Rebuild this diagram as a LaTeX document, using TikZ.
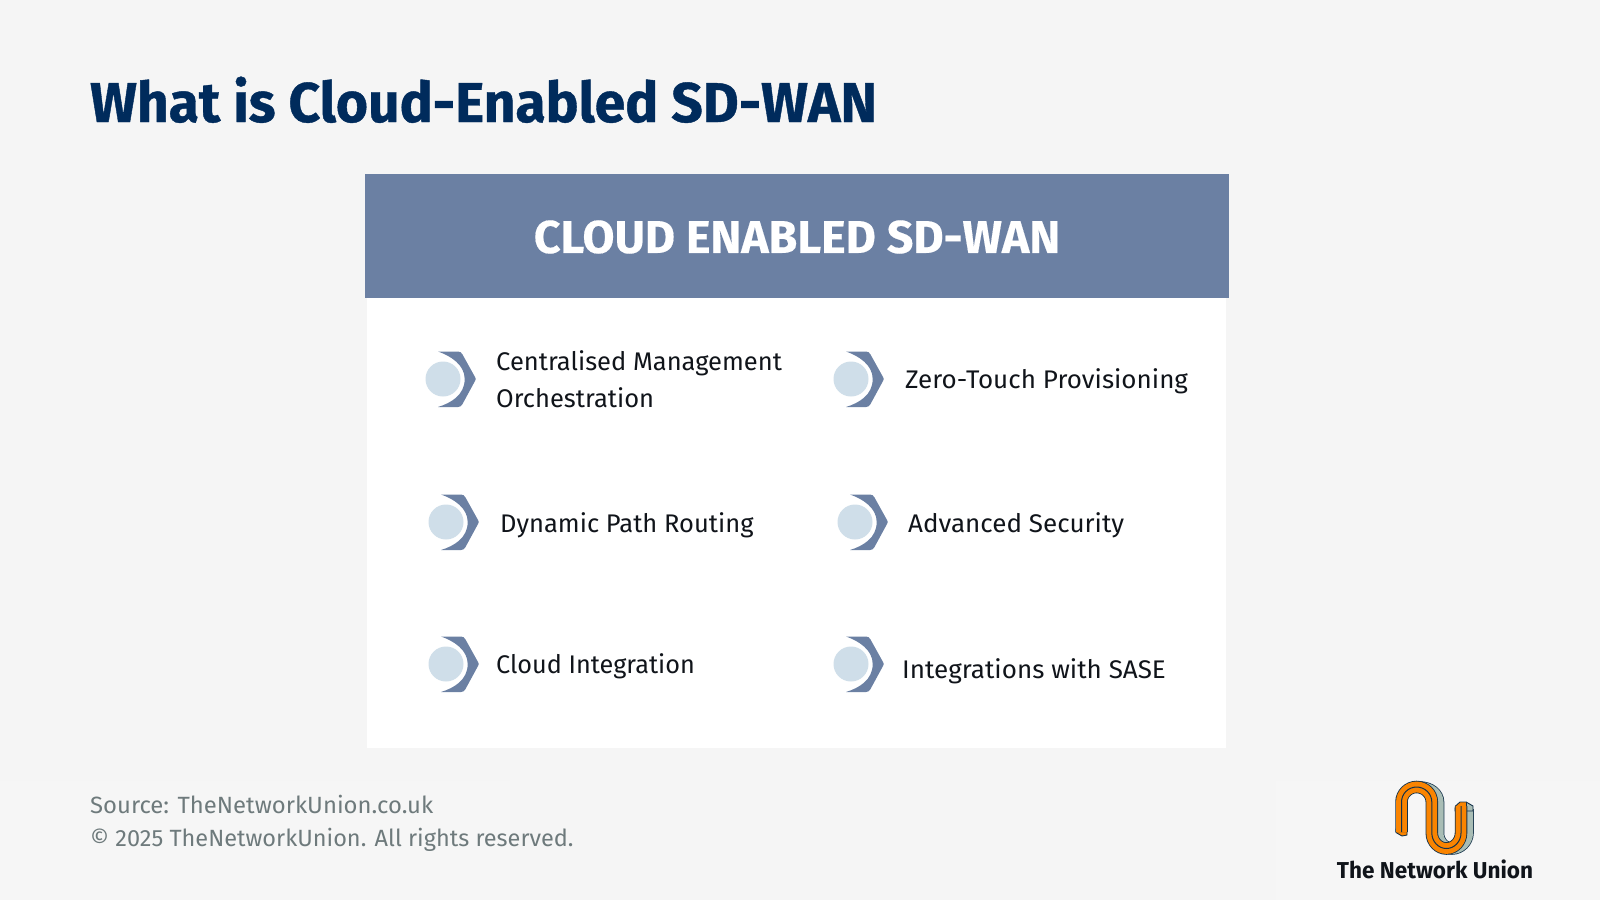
\documentclass[tikz,border=0pt]{standalone}
\usepackage{fontspec}
\setmainfont{Fira Sans}
\newfontfamily\bodyf[FakeStretch=1.0]{Fira Sans}
\newfontfamily\bodywide[FakeStretch=1.02]{Fira Sans}
\newfontfamily\bodyslim[FakeStretch=0.99]{Fira Sans}
\newfontfamily\footf[FakeStretch=1.0]{Fira Sans}
\newfontfamily\footwide[FakeStretch=1.015]{Fira Sans}
\newfontfamily\titlef[FakeStretch=0.985,FakeBold=0.7]{Fira Sans Bold}
\newfontfamily\headf[FakeStretch=1.01,FakeBold=0.3]{Fira Sans Bold}
\newfontfamily\logof[FakeStretch=0.98]{Fira Sans Bold}
\definecolor{bgc}{HTML}{F5F5F5}
\definecolor{bgl}{HTML}{F6F6F6}
\definecolor{navy}{HTML}{002B5C}
\definecolor{slate}{HTML}{6B80A3}
\definecolor{pale}{HTML}{CFDEE9}
\definecolor{greyt}{HTML}{6E7A7C}
\definecolor{ink}{HTML}{10141A}
\definecolor{orangel}{HTML}{FA8400}
\definecolor{sage}{HTML}{A9BDB5}
\definecolor{outl}{HTML}{14324A}
\def\logomain{(1401.5,832) -- (1401.5,802) .. controls (1401.5,793.7) and (1408.3,787) .. (1416.6,787) .. controls (1424.9,787) and (1431.8,793.7) .. (1431.8,802) -- (1431.8,833) .. controls (1431.8,841.5) and (1438.4,848.5) .. (1446.4,848.5) .. controls (1454.4,848.5) and (1461,841.5) .. (1461,833) -- (1461,806)}
\def\logoshade{(1420,787.5) .. controls (1430,787.5) and (1438,794) .. (1438,802) -- (1438,833) .. controls (1438,841.5) and (1444,848.5) .. (1452,848.5) .. controls (1460,848.5) and (1467.5,841.5) .. (1467.5,833) -- (1467.5,809)}
\tikzset{
  x=1pt,y=-1pt,
  itemtext/.style={anchor=base west,inner sep=0pt,font=\bodyf\fontsize{25.5}{31}\selectfont,text=ink},
  itemwide/.style={itemtext,font=\bodywide\fontsize{25.5}{31}\selectfont},
  itemslim/.style={itemtext,font=\bodyslim\fontsize{25.5}{31}\selectfont},
  foottext/.style={anchor=base west,inner sep=0pt,font=\footf\fontsize{23.5}{28}\selectfont,text=greyt},
  footwider/.style={foottext,font=\footwide\fontsize{23.5}{28}\selectfont},
  chev/.pic={
    \fill[slate] (-5,-27.5) -- (15,-27.5) .. controls (17,-27.5) and (18.5,-26.5) .. (19.5,-24.5) -- (32,-2) .. controls (33,-0.5) and (33,0.5) .. (32,2) -- (19.5,25) .. controls (18.5,27) and (17,28) .. (15,28) -- (-5,28) .. controls (8,24) and (21.7,16) .. (21.7,0) .. controls (21.7,-14) and (8,-23) .. (-5,-27.5) -- cycle;
    \fill[pale] (0,0) circle (17.5);
  }
}
\begin{document}
\begin{tikzpicture}
\useasboundingbox (0,0) rectangle (1600,900);
\fill[bgc] (0,0) rectangle (1600,900);
\fill[bgl] (0,781) rectangle (510,900);
\fill[bgl] (1276,781) rectangle (1600,900);
\node[anchor=base west,inner sep=0pt,font=\titlef\fontsize{56}{60}\selectfont,text=navy] (title) at (90,122) {What is Cloud-Enabled SD-WAN};
\fill[white] (367,298) rectangle (1226,748);
\fill[slate] (365,174) rectangle (1229,298);
\node[anchor=center,inner sep=0pt,font=\headf\fontsize{46}{50}\selectfont,text=white] (head) at (797,237) {CLOUD ENABLED SD-WAN};
\pic at (443,379) {chev};
\pic at (851,379) {chev};
\pic at (446,522) {chev};
\pic at (855,522) {chev};
\pic at (446,664) {chev};
\pic at (851,664) {chev};
\node[itemtext] (a1) at (496,370) {Centralised Management};
\node[itemtext] (a2) at (496,407) {Orchestration};
\node[itemwide] (b) at (905,388) {Zero-Touch Provisioning};
\node[itemtext] (c) at (500,532) {Dynamic Path Routing};
\node[itemwide] (d) at (908,532) {Advanced Security};
\node[itemslim] (e) at (496,673) {Cloud Integration};
\node[itemwide] (f) at (902,678) {Integrations with SASE};
\node[footwider] (s1) at (90,813) {Source: TheNetworkUnion.co.uk};
\node[foottext] (s2) at (90,846) {© 2025 TheNetworkUnion. All rights reserved.};
\node[anchor=base,inner sep=0pt,font=\logof\fontsize{23}{26}\selectfont,text=ink] (logo) at (1435,878) {The Network Union};
% logo
\draw[outl,line width=12.5pt] \logoshade;
\draw[sage,line width=11pt] \logoshade;
\filldraw[fill=sage,draw=outl,line width=0.9pt] (1455,808) -- (1461,802.5) -- (1467,802.5) -- (1473,806) -- (1473,811) -- (1455,811) -- cycle;
\filldraw[fill=orangel,draw=outl,line width=0.9pt] (1455.5,810) -- (1455.5,806) -- (1460,802) -- (1466.5,802) -- (1466.5,810) -- cycle;
\filldraw[fill=orangel,draw=outl,line width=0.9pt] (1396,829) -- (1396,832.5) -- (1402,836) -- (1407,835) -- (1407,829) -- cycle;
\draw[outl,line width=12.5pt] \logomain;
\draw[orangel,line width=10.8pt] \logomain;
\draw[outl,line width=1pt] \logomain;
\end{tikzpicture}
\end{document}
